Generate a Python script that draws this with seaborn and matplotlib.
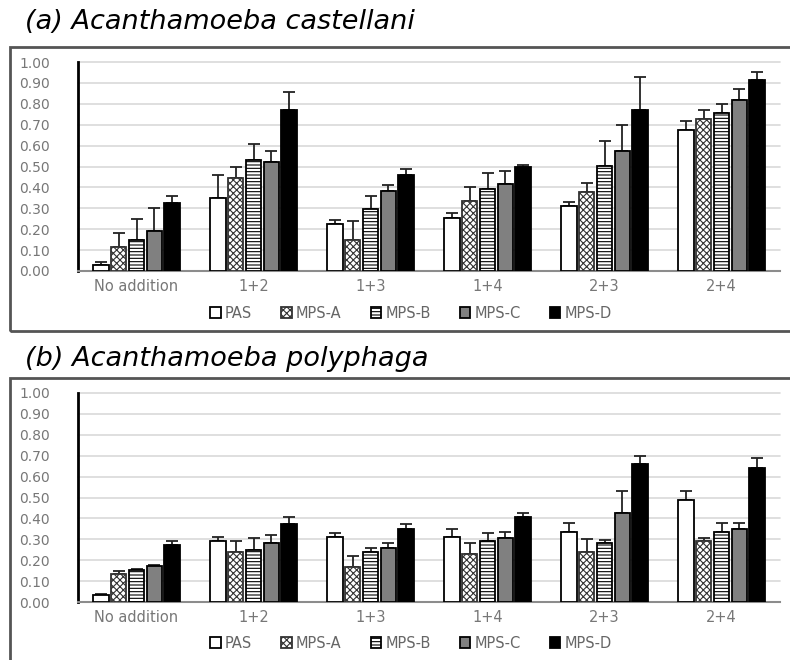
import matplotlib
matplotlib.use("Agg")
import matplotlib.pyplot as plt
import seaborn as sns
import pandas as pd
import numpy as np
from matplotlib.patches import Rectangle

categories = ["No addition", "1+2", "1+3", "1+4", "2+3", "2+4"]
series = ["PAS", "MPS-A", "MPS-B", "MPS-C", "MPS-D"]

# (a) Acanthamoeba castellani: means and upper error tops
a_PAS   = [0.03, 0.35, 0.226, 0.252, 0.31, 0.675]
a_MPSA  = [0.116, 0.445, 0.148, 0.333, 0.38, 0.726]
a_MPSB  = [0.147, 0.53, 0.297, 0.39, 0.504, 0.754]
a_MPSC  = [0.19, 0.52, 0.383, 0.418, 0.574, 0.82]
a_MPSD  = [0.325, 0.77, 0.46, 0.50, 0.77, 0.915]
a_PAS_top  = [0.045, 0.46, 0.245, 0.277, 0.33, 0.718]
a_MPSA_top = [0.18, 0.50, 0.24, 0.40, 0.42, 0.77]
a_MPSB_top = [0.25, 0.61, 0.36, 0.47, 0.624, 0.80]
a_MPSC_top = [0.30, 0.575, 0.41, 0.48, 0.70, 0.872]
a_MPSD_top = [0.36, 0.855, 0.49, 0.505, 0.93, 0.952]

# (b) Acanthamoeba polyphaga
b_PAS   = [0.035, 0.29, 0.31, 0.31, 0.337, 0.49]
b_MPSA  = [0.134, 0.238, 0.168, 0.23, 0.238, 0.29]
b_MPSB  = [0.154, 0.25, 0.238, 0.29, 0.283, 0.337]
b_MPSC  = [0.173, 0.283, 0.259, 0.308, 0.428, 0.348]
b_MPSD  = [0.273, 0.372, 0.348, 0.408, 0.66, 0.642]
b_PAS_top  = [0.04, 0.31, 0.33, 0.348, 0.38, 0.53]
b_MPSA_top = [0.15, 0.29, 0.22, 0.283, 0.30, 0.308]
b_MPSB_top = [0.16, 0.307, 0.258, 0.33, 0.297, 0.38]
b_MPSC_top = [0.176, 0.32, 0.28, 0.337, 0.53, 0.38]
b_MPSD_top = [0.29, 0.408, 0.372, 0.428, 0.70, 0.69]

yticks = [0.0, 0.1, 0.2, 0.3, 0.4, 0.5, 0.6, 0.7, 0.8, 0.9, 1.0]
ytick_labels = ["0.00", "0.10", "0.20", "0.30", "0.40", "0.50", "0.60", "0.70", "0.80", "0.90", "1.00"]

colors = ["white", "white", "white", "#808080", "black"]
hatches = ["", "xxxxx", "-----", "", ""]

sns.set_theme(style="white")
plt.rcParams["hatch.linewidth"] = 0.8
plt.rcParams["font.family"] = ["DejaVu Sans"]

W, H = 790, 660
fig = plt.figure(figsize=(W / 100, H / 100), dpi=100)


def px_axes(x0, x1, y_top, y_bot):
    return fig.add_axes([x0 / W, 1 - y_bot / H, (x1 - x0) / W, (y_bot - y_top) / H])


def draw_panel(ax, means, tops, title, title_y, box_top, box_bot, legend_y):
    rows = []
    for s, m in zip(series, means):
        for c, v in zip(categories, m):
            rows.append({"cat": c, "series": s, "val": v})
    df = pd.DataFrame(rows)
    sns.barplot(data=df, x="cat", y="val", hue="series", order=categories,
                hue_order=series, palette=colors, errorbar=None, ax=ax,
                width=0.76, gap=0.14, edgecolor="black", linewidth=1.3,
                legend=False, zorder=3)
    bar_conts = list(ax.containers)
    for i, cont in enumerate(bar_conts):
        for j, p in enumerate(cont.patches):
            p.set_hatch(hatches[i])
            if hatches[i] == "xxxxx":
                p.set_edgecolor("#333333")
            xc = p.get_x() + p.get_width() / 2
            h = p.get_height()
            err = max(tops[i][j] - means[i][j], 0)
            ax.errorbar(xc, h, yerr=[[0], [err]], fmt="none", ecolor="#222222",
                        elinewidth=1.3, capsize=4, capthick=1.3, zorder=2)
    ax.set_xlim(-0.5, 5.5)
    ax.set_ylim(0, 1.0)
    ax.set_yticks(yticks)
    ax.set_yticklabels(ytick_labels)
    ax.set_xlabel("")
    ax.set_ylabel("")
    ax.yaxis.grid(True, color="#d9d9d9", linewidth=1.2, zorder=0)
    ax.set_axisbelow(True)
    for s in ["top", "right"]:
        ax.spines[s].set_visible(False)
    ax.spines["left"].set_color("black")
    ax.spines["left"].set_linewidth(2)
    ax.spines["bottom"].set_color("#8c8c8c")
    ax.spines["bottom"].set_linewidth(1.5)
    ax.tick_params(axis="y", length=0, pad=20, labelsize=10, labelcolor="#777777")
    ax.tick_params(axis="x", length=0, pad=6, labelsize=10.5, labelcolor="#777777")
    for gl in ax.get_ygridlines():
        gl.set_clip_on(False)

    leg = ax.legend(bar_conts, series, ncol=5, frameon=False,
                    loc="center", bbox_to_anchor=(411 / W, 1 - legend_y / H),
                    bbox_transform=fig.transFigure, fontsize=10.5,
                    handlelength=0.7, handleheight=0.7, handletextpad=0.3,
                    columnspacing=2.0)
    for t in leg.get_texts():
        t.set_color("#666666")

    fig.text(25 / W, 1 - title_y / H, title, style="italic", fontsize=19.5,
             va="center", ha="left", color="black")
    fig.patches.append(Rectangle((10 / W, 1 - box_bot / H), 1.2, (box_bot - box_top) / H,
                                 transform=fig.transFigure, fill=False,
                                 edgecolor="#555555", linewidth=2, zorder=0))


ax1 = px_axes(78, 780, 62, 271)
draw_panel(ax1, [a_PAS, a_MPSA, a_MPSB, a_MPSC, a_MPSD],
           [a_PAS_top, a_MPSA_top, a_MPSB_top, a_MPSC_top, a_MPSD_top],
           "(a) Acanthamoeba castellani", 22, 47, 331, 313)

ax2 = px_axes(78, 780, 393, 602)
draw_panel(ax2, [b_PAS, b_MPSA, b_MPSB, b_MPSC, b_MPSD],
           [b_PAS_top, b_MPSA_top, b_MPSB_top, b_MPSC_top, b_MPSD_top],
           "(b) Acanthamoeba polyphaga", 359, 378, 700, 643)

fig.savefig("out.png", dpi=100)
